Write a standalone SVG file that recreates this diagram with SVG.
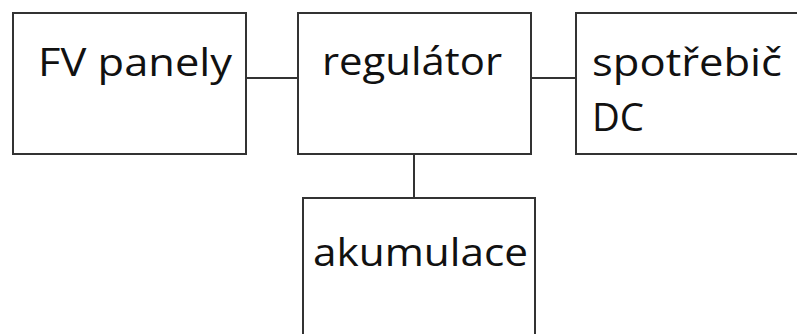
<svg xmlns="http://www.w3.org/2000/svg" width="797" height="334" viewBox="0 0 797 334">
<style>
.box{fill:#fff;stroke:#333;stroke-width:2}
.lbl{font-family:"Open Sans","Noto Sans",sans-serif;font-size:38px;fill:#111}
.conn{stroke:#333;stroke-width:2;fill:none}
</style>
<rect width="797" height="334" fill="#fff"/>
<g id="connectors">
<line class="conn" x1="246" y1="78" x2="298" y2="78"/>
<line class="conn" x1="531" y1="78" x2="576" y2="78"/>
<line class="conn" x1="414" y1="154" x2="414" y2="198"/>
</g>
<g id="fv-panely">
<rect class="box" x="13" y="13" width="233" height="141"/>
<text class="lbl" x="38" y="76" textLength="194" lengthAdjust="spacingAndGlyphs">FV panely</text>
</g>
<g id="regulator">
<rect class="box" x="298" y="13" width="233" height="141"/>
<text class="lbl" x="322" y="75" textLength="180" lengthAdjust="spacingAndGlyphs">regulátor</text>
</g>
<g id="spotrebic">
<rect class="box" x="576" y="13" width="240" height="141"/>
<text class="lbl" x="592" y="76" textLength="190" lengthAdjust="spacingAndGlyphs">spotřebič</text>
<text class="lbl" x="592" y="131" textLength="52" lengthAdjust="spacingAndGlyphs">DC</text>
</g>
<g id="akumulace">
<rect class="box" x="303" y="198" width="232" height="150"/>
<text class="lbl" x="313" y="266" textLength="215" lengthAdjust="spacingAndGlyphs">akumulace</text>
</g>
</svg>
